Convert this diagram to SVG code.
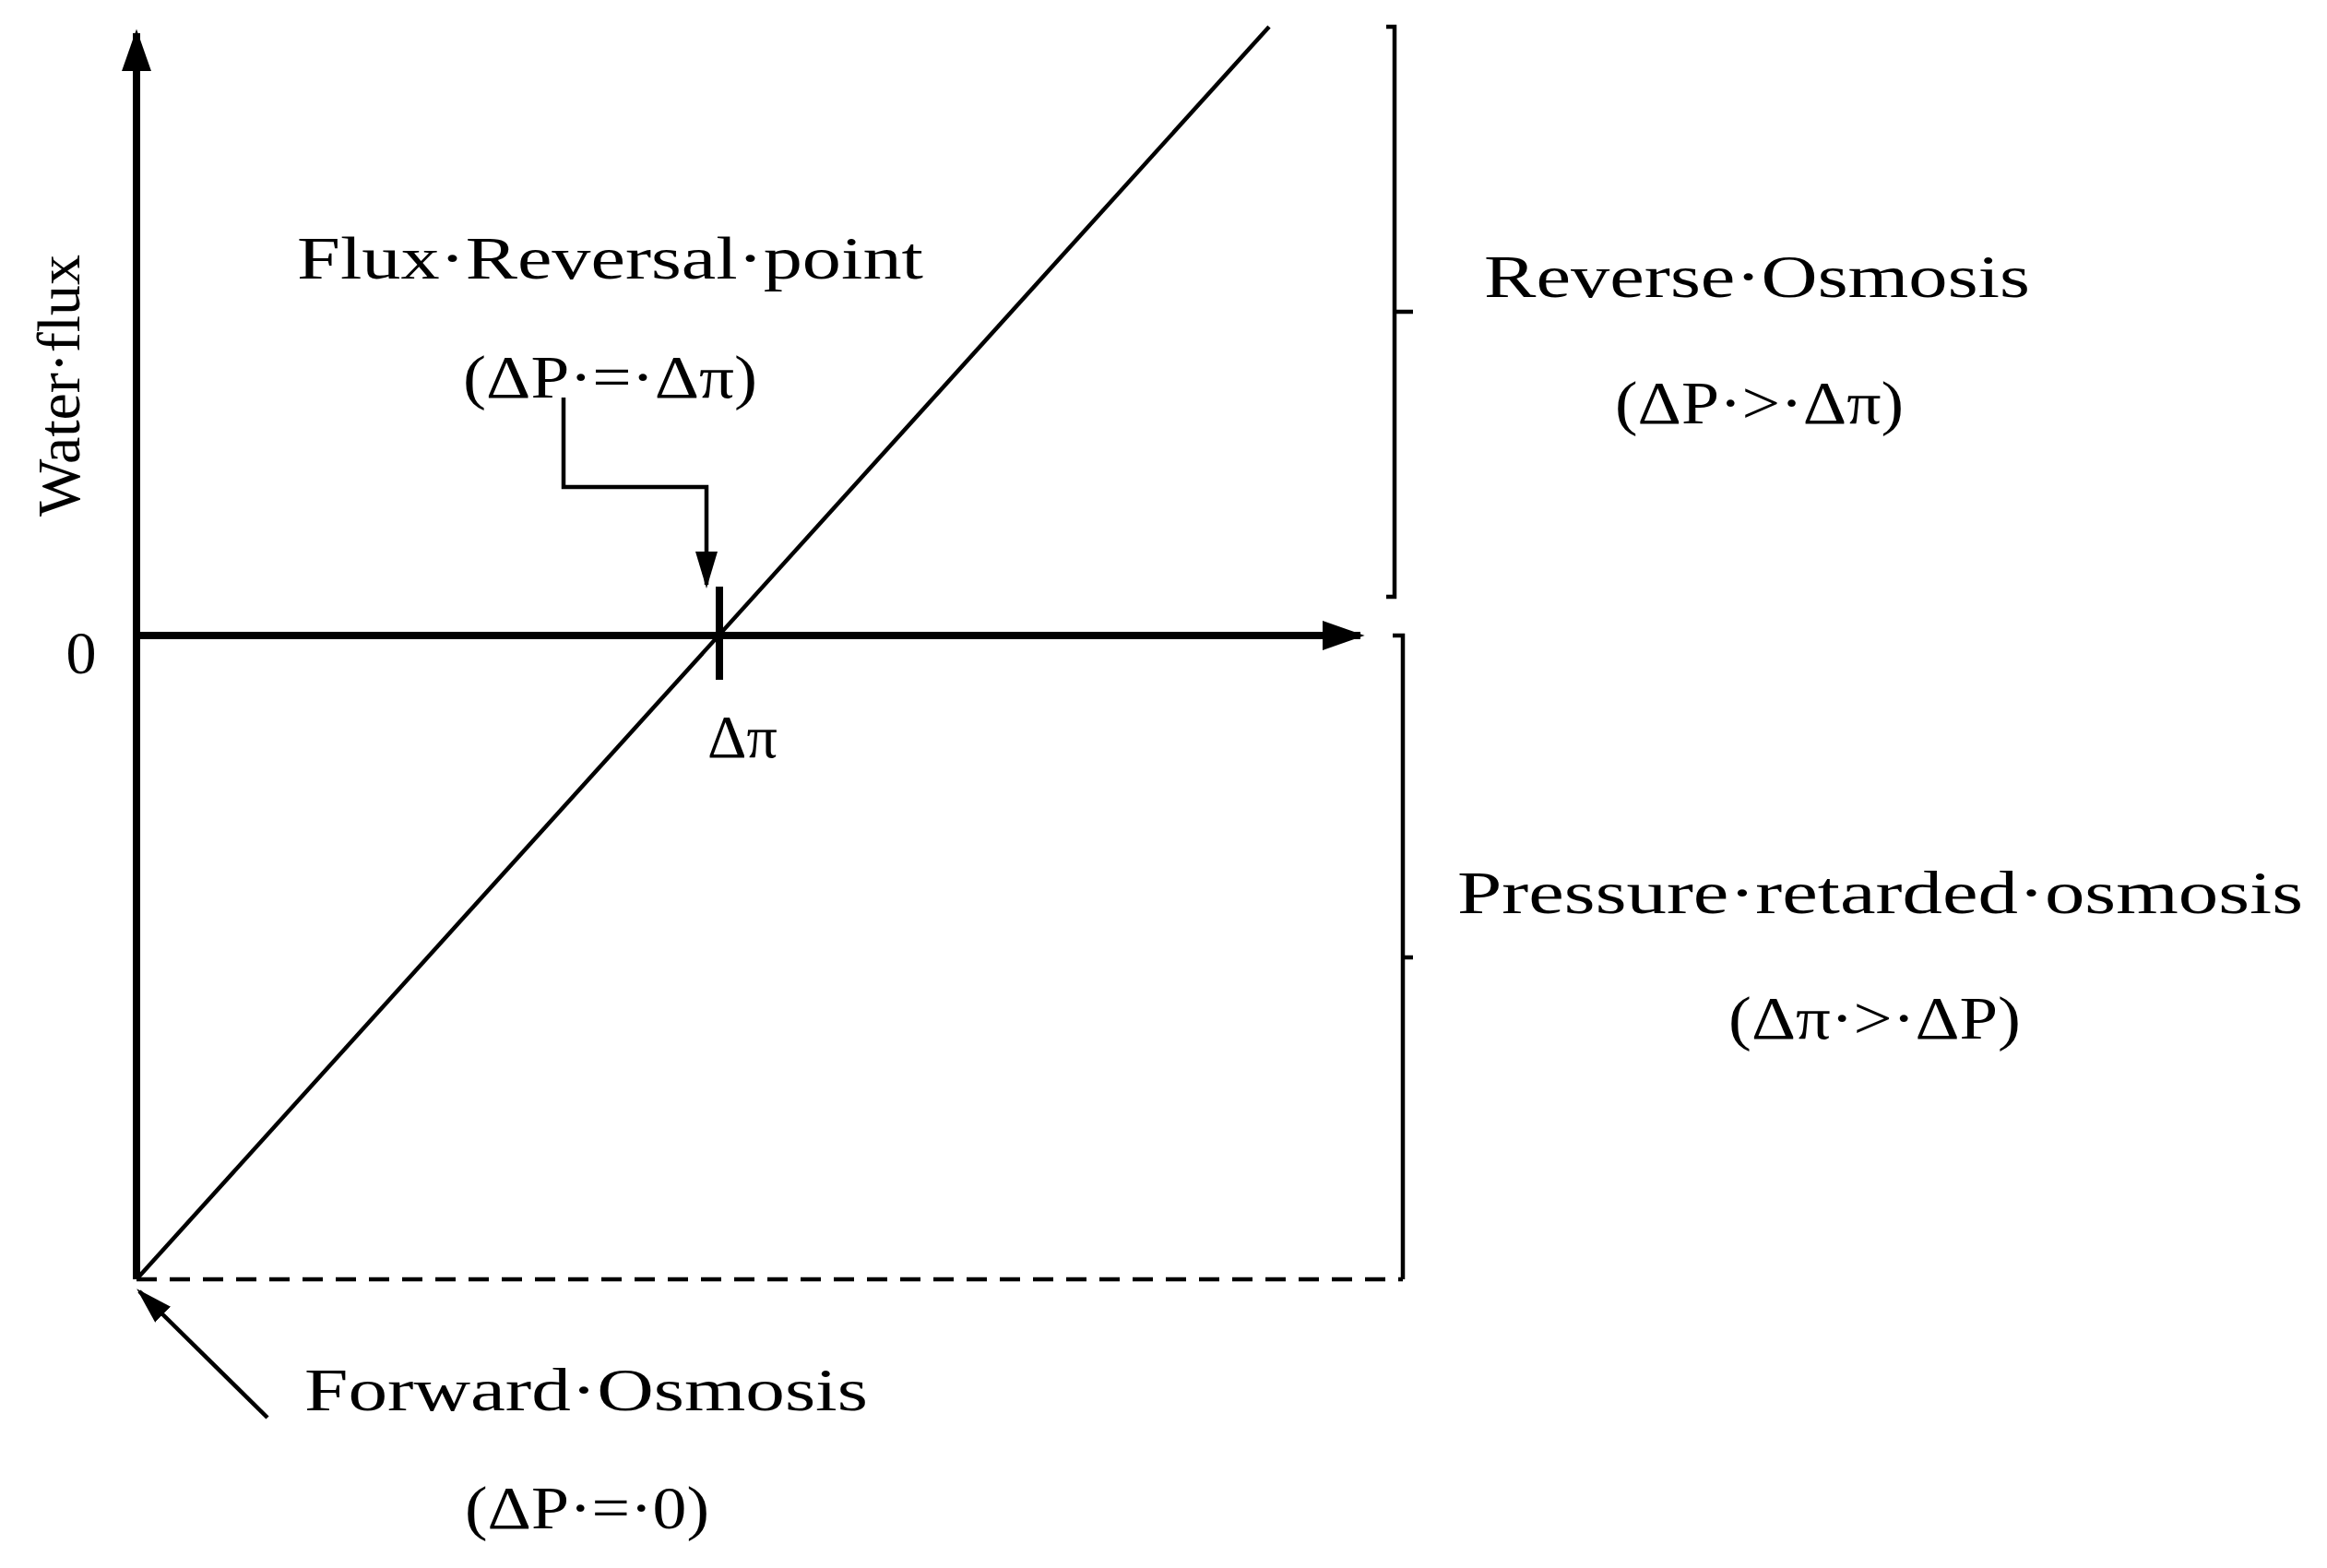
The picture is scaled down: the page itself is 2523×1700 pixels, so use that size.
<svg xmlns="http://www.w3.org/2000/svg" width="2523" height="1700" viewBox="0 0 2523 1700">
<style>
text{font-family:"Liberation Serif","DejaVu Serif",serif;font-size:66px;fill:#000}
.ax{stroke:#000;stroke-width:8;fill:none}
.ln{stroke:#000;stroke-width:4.5;fill:none}
</style>
<defs>
<marker id="ah" markerWidth="10" markerHeight="10" refX="8" refY="5" orient="auto" markerUnits="userSpaceOnUse" viewBox="0 0 10 10"><path d="M0,0 L10,5 L0,10 z" fill="#000"/></marker>
<marker id="big" viewBox="0 0 10 10" refX="9" refY="5" markerWidth="46" markerHeight="46" orient="auto" markerUnits="userSpaceOnUse"><path d="M0,1.5 L10,5 L0,8.5 z" fill="#000"/></marker>
<marker id="sm" viewBox="0 0 10 10" refX="9" refY="5" markerWidth="40" markerHeight="40" orient="auto" markerUnits="userSpaceOnUse"><path d="M0,2 L10,5 L0,8 z" fill="#000"/></marker>
</defs>
<g id="axes">
<line class="ax" x1="148" y1="1387" x2="148" y2="36" marker-end="url(#big)"/>
<line class="ax" x1="144" y1="689" x2="1475" y2="689" marker-end="url(#big)"/>
<line class="ax" x1="780" y1="636" x2="780" y2="737"/>
</g>
<g id="connectors">
<line class="ln" x1="148" y1="1387" x2="1376" y2="29"/>
<line class="ln" x1="148" y1="1387" x2="1521" y2="1387" stroke-dasharray="22,14"/>
<polyline class="ln" points="611,431 611,528 766,528 766,634" marker-end="url(#sm)"/>
<line class="ln" x1="290" y1="1537" x2="151" y2="1400" marker-end="url(#sm)"/>
<path class="ln" d="M1503,29 H1512 V647 H1503 M1512,338 H1532"/>
<path class="ln" d="M1510,689 H1521 V1387 M1521,1038 H1532"/>
</g>
<g id="labels">
<text transform="translate(86,418) rotate(-90)" text-anchor="middle">Water·flux</text>
<text x="88" y="730" text-anchor="middle">0</text>
<text x="322" y="302" textLength="679" lengthAdjust="spacingAndGlyphs">Flux·Reversal·point</text>
<text x="502" y="431" textLength="319" lengthAdjust="spacingAndGlyphs">(ΔP·=·Δπ)</text>
<text x="805" y="821" text-anchor="middle">Δπ</text>
<text x="1609" y="322" textLength="592" lengthAdjust="spacingAndGlyphs">Reverse·Osmosis</text>
<text x="1751" y="459" textLength="313" lengthAdjust="spacingAndGlyphs">(ΔP·&gt;·Δπ)</text>
<text x="1580" y="990" textLength="917" lengthAdjust="spacingAndGlyphs">Pressure·retarded·osmosis</text>
<text x="1874" y="1126" textLength="317" lengthAdjust="spacingAndGlyphs">(Δπ·&gt;·ΔP)</text>
<text x="330" y="1529" textLength="611" lengthAdjust="spacingAndGlyphs">Forward·Osmosis</text>
<text x="504" y="1657" textLength="265" lengthAdjust="spacingAndGlyphs">(ΔP·=·0)</text>
</g>
</svg>
